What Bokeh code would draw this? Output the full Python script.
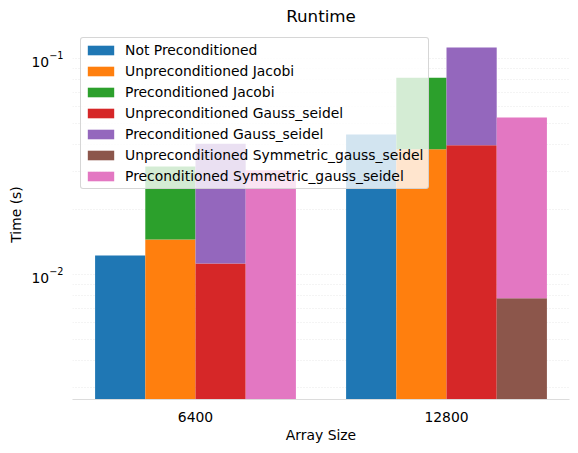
from bokeh.plotting import figure
from bokeh.layouts import row
from bokeh.models import Range1d, FixedTicker, LogTickFormatter, ColumnDataSource, Spacer
from bokeh.embed import file_html
from bokeh.resources import INLINE

# ---- data ----
sizes = ["6400", "12800"]
not_precond = [0.0123, 0.0447]
unprecond_jacobi = [0.0146, 0.0382]
precond_jacobi = [0.0318, 0.0819]
unprecond_gs = [0.0113, 0.0398]
precond_gs = [0.0405, 0.1128]
unprecond_sgs = [0.0025, 0.0078]
precond_sgs = [0.0305, 0.0535]

series_names = [
    "Not Preconditioned",
    "Unpreconditioned Jacobi",
    "Preconditioned Jacobi",
    "Unpreconditioned Gauss_seidel",
    "Preconditioned Gauss_seidel",
    "Unpreconditioned Symmetric_gauss_seidel",
    "Preconditioned Symmetric_gauss_seidel",
]
colors = ["#1f77b4", "#ff7f0e", "#2ca02c", "#d62728", "#9467bd", "#8c564b", "#e377c2"]

major_ticks = [0.01, 0.1]
minor_ticks = [0.003, 0.004, 0.005, 0.006, 0.007, 0.008, 0.009,
               0.02, 0.03, 0.04, 0.05, 0.06, 0.07, 0.08, 0.09]

FONT = "DejaVu Sans"
FLOOR = 1e-4
BAR_W = 0.2
FS = "13.9px"

p = figure(frame_width=497, frame_height=370, y_axis_type="log",
           x_range=Range1d(-0.49, 1.49), y_range=Range1d(0.00265, 0.1368),
           output_backend="svg", toolbar_location=None,
           min_border_left=64, min_border_right=1, min_border_top=27,
           min_border_bottom=10)
p.outline_line_color = None
p.background_fill_color = "white"

xs = list(range(len(sizes)))

def bars(offset, tops, bottoms, color, label):
    src = ColumnDataSource(dict(x=[x + offset for x in xs], top=tops, bottom=bottoms))
    return p.vbar(x="x", top="top", bottom="bottom", width=BAR_W, source=src,
                  fill_color=color, line_color=None, legend_label=label)

floor = [FLOOR] * len(sizes)
bars(-0.3, not_precond, floor, colors[0], series_names[0])
bars(-0.1, unprecond_jacobi, floor, colors[1], series_names[1])
bars(-0.1, precond_jacobi, unprecond_jacobi, colors[2], series_names[2])
bars(0.1, unprecond_gs, floor, colors[3], series_names[3])
bars(0.1, precond_gs, unprecond_gs, colors[4], series_names[4])
bars(0.3, unprecond_sgs, floor, colors[5], series_names[5])
bars(0.3, precond_sgs, unprecond_sgs, colors[6], series_names[6])

# title
p.title.text = "Runtime"
p.title.align = "center"
p.title.text_font = FONT
p.title.text_font_size = "16.7px"
p.title.text_font_style = "normal"
p.title.text_color = "black"
p.title.standoff = 7

# x axis
p.xaxis.ticker = FixedTicker(ticks=xs)
p.xaxis.major_label_overrides = {i: s for i, s in enumerate(sizes)}
p.xaxis.axis_label = "Array Size"
p.xaxis.axis_line_color = "#dcdcdc"
p.xaxis.axis_line_width = 1.2
p.xaxis.major_tick_line_color = None
p.xaxis.minor_tick_line_color = None
p.xaxis.major_tick_out = 0
p.xaxis.major_label_standoff = 12
p.xaxis.axis_label_standoff = 2

# y axis
p.yaxis.ticker = FixedTicker(ticks=major_ticks, minor_ticks=minor_ticks)
p.yaxis.formatter = LogTickFormatter()
p.yaxis.axis_label = "Time (s)"
p.yaxis.axis_line_color = None
p.yaxis.major_tick_line_color = None
p.yaxis.minor_tick_line_color = None
p.yaxis.major_tick_out = 0
p.yaxis.major_label_standoff = 5
p.yaxis.axis_label_standoff = 4

for ax in (p.xaxis[0], p.yaxis[0]):
    ax.major_label_text_font = FONT
    ax.major_label_text_font_size = FS
    ax.major_label_text_color = "black"
    ax.axis_label_text_font = FONT
    ax.axis_label_text_font_size = FS
    ax.axis_label_text_font_style = "normal"
    ax.axis_label_text_color = "black"

# grids
p.xgrid.grid_line_color = None
p.ygrid.grid_line_color = "#e9e9e9"
p.ygrid.grid_line_dash = "1 2"
p.ygrid.minor_grid_line_color = "#e9e9e9"
p.ygrid.minor_grid_line_dash = "1 2"

# legend
lg = p.legend[0]
lg.location = "top_left"
lg.margin = 8
lg.padding = 3
lg.spacing = 3
lg.label_height = 18
lg.label_width = 300
lg.glyph_width = 33
lg.glyph_height = 12
lg.label_standoff = 8
lg.label_text_font = FONT
lg.label_text_font_size = FS
lg.label_text_color = "black"
lg.background_fill_color = "white"
lg.background_fill_alpha = 0.8
lg.border_line_color = "#cccccc"
lg.border_line_alpha = 0.8
lg.border_line_width = 1
if "border_radius" in lg.properties():
    lg.border_radius = 3

layout = row(Spacer(width=5, height=10), p)

open("out.html", "w").write(file_html(layout, INLINE))
